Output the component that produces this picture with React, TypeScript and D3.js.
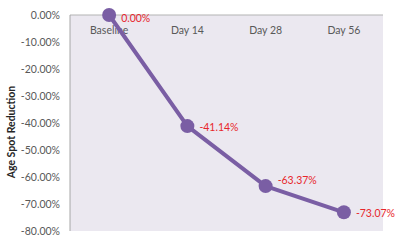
import React from "react";
import * as d3 from "d3";

const categories = ["Baseline", "Day 14", "Day 28", "Day 56"];
const values = [0, -41.14, -63.37, -73.07];
const valueLabels = ["0.00%", "-41.14%", "-63.37%", "-73.07%"];
const yTicks = [0, -10, -20, -30, -40, -50, -60, -70, -80];
const yTitle = "Age Spot Reduction";

const W = 400;
const H = 244;
const M = { left: 70, right: 17, top: 15, bottom: 13 };
const labelDy = [3, 1, -6, 1];

export default function App() {
  const x = d3
    .scaleBand<string>()
    .domain(categories)
    .range([M.left, W - M.right])
    .padding(0);
  const y = d3.scaleLinear().domain([-80, 0]).range([H - M.bottom, M.top]);
  const cx = (c: string) => (x(c) as number) + x.bandwidth() / 2;
  const line = d3
    .line<number>()
    .x((_, i) => cx(categories[i]))
    .y((d) => y(d));
  const font = "Lato, 'Open Sans', sans-serif";
  return (
    <svg
      width={W}
      height={H}
      style={{ position: "absolute", left: 0, top: 0, background: "#fff" }}
      fontFamily={font}
    >
      <rect
        x={M.left}
        y={M.top}
        width={W - M.right - M.left}
        height={H - M.bottom - M.top}
        fill="#ebe8f0"
      />
      <line x1={M.left} x2={W - M.right} y1={M.top} y2={M.top} stroke="#b3b3b3" strokeWidth={1} />
      <line x1={M.left} x2={M.left} y1={M.top} y2={H - M.bottom} stroke="#a6a6a6" strokeWidth={1} />
      {yTicks.map((t) => (
        <text
          key={t}
          x={M.left - 10}
          y={y(t)}
          dy="0.35em"
          textAnchor="end"
          fontSize={10.5}
          fill="#595959"
        >
          {t === 0 ? "0.00%" : `${t.toFixed(2)}%`}
        </text>
      ))}
      {categories.map((c) => (
        <text
          key={c}
          x={cx(c)}
          y={M.top + 15}
          dy="0.35em"
          textAnchor="middle"
          fontSize={10.5}
          fill="#595959"
        >
          {c}
        </text>
      ))}
      <text
        transform={`translate(15,${(M.top + H - M.bottom) / 2 + 9}) rotate(-90)`}
        textAnchor="middle"
        fontSize={10.5}
        fontWeight="bold"
        fill="#262626"
      >
        {yTitle}
      </text>
      <path
        d={line(values) || ""}
        fill="none"
        stroke="#7a5ea4"
        strokeWidth={4}
        strokeLinejoin="round"
      />
      {values.map((v, i) => (
        <circle key={i} cx={cx(categories[i])} cy={y(v)} r={7} fill="#7a5ea4" />
      ))}
      {values.map((v, i) => (
        <text
          key={"l" + i}
          x={cx(categories[i]) + 12}
          y={y(v) + labelDy[i]}
          dy="0.35em"
          fontSize={10.5}
          fill="#e8262b"
        >
          {valueLabels[i]}
        </text>
      ))}
    </svg>
  );
}
